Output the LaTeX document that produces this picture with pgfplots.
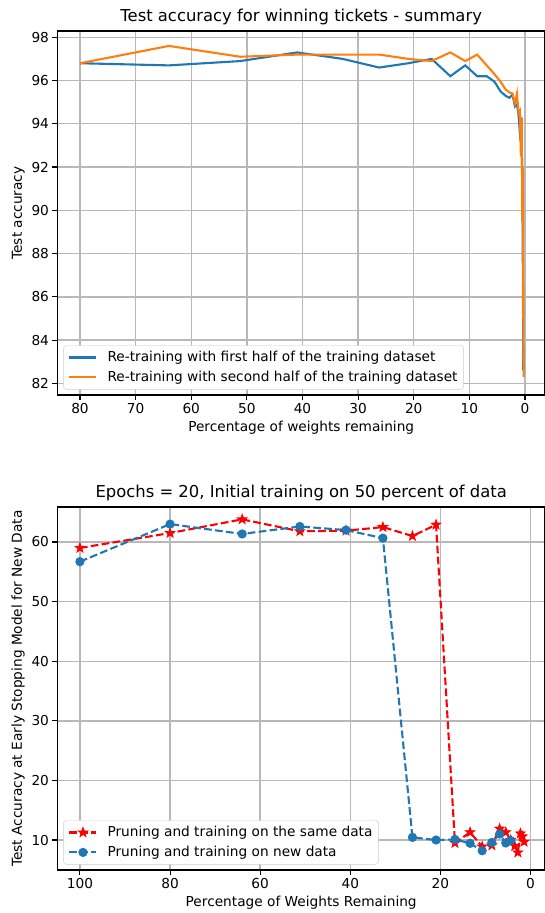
\documentclass[border=0pt]{standalone}
\usepackage{pgfplots}
\pgfplotsset{compat=1.18}
\usepackage{fontspec}
\setmainfont{DejaVu Sans}
\definecolor{mplblue}{HTML}{1F77B4}
\definecolor{mplorange}{HTML}{FF7F0E}
\definecolor{gridgray}{HTML}{B8B8B8}
\definecolor{legedge}{HTML}{CCCCCC}
\pgfdeclareplotmark{fstar}{%
  \pgfpathmoveto{\pgfpointpolar{90}{\pgfplotmarksize}}%
  \pgfpathlineto{\pgfpointpolar{126}{0.40\pgfplotmarksize}}%
  \pgfpathlineto{\pgfpointpolar{162}{\pgfplotmarksize}}%
  \pgfpathlineto{\pgfpointpolar{198}{0.40\pgfplotmarksize}}%
  \pgfpathlineto{\pgfpointpolar{234}{\pgfplotmarksize}}%
  \pgfpathlineto{\pgfpointpolar{270}{0.40\pgfplotmarksize}}%
  \pgfpathlineto{\pgfpointpolar{306}{\pgfplotmarksize}}%
  \pgfpathlineto{\pgfpointpolar{342}{0.40\pgfplotmarksize}}%
  \pgfpathlineto{\pgfpointpolar{18}{\pgfplotmarksize}}%
  \pgfpathlineto{\pgfpointpolar{54}{0.40\pgfplotmarksize}}%
  \pgfpathclose
  \pgfusepathqfillstroke}
\pgfplotsset{
  mystyle/.style={
    scale only axis, width=487.6pt,
    x dir=reverse,
    axis line style={line width=1.1pt},
    tick align=outside, tick pos=left,
    major tick length=4.9pt,
    every tick/.style={black, line width=1.1pt},
    grid=major, major grid style={gridgray, line width=1.4pt},
    tick label style={font=\fontsize{13.7}{16}\selectfont},
    label style={font=\fontsize{13.7}{16}\selectfont},
    title style={font=\fontsize{16.4}{19}\selectfont, at={(0.5,1)}, anchor=south, yshift=-3pt},
    /pgf/number format/assume math mode=true,
    legend style={font=\fontsize{13.7}{16}\selectfont, draw=legedge, rounded corners=3pt,
      at={(0.012,0.015)}, anchor=south west, legend cell align=left,
      inner xsep=4pt, inner ysep=4pt, row sep=4pt},
    legend image code/.code={\draw[mark repeat=2,mark phase=2] plot coordinates {(0pt,0pt)(13.5pt,0pt)(27pt,0pt)};\path (-1pt,0pt) (35pt,0pt);},
  }
}
\begin{document}
\begin{tikzpicture}
\useasboundingbox (0pt,0pt) rectangle (545pt,-913pt);
\begin{axis}[mystyle, at={(57.4pt,-395pt)}, anchor=south west, height=364pt,
  xmin=-3.6, xmax=84.06, ymin=81.46, ymax=98.29,
  xtick={0,10,...,80}, ytick={82,84,...,98},
  title={Test accuracy for winning tickets - summary},
  xlabel={Percentage of weights remaining},
  ylabel={Test accuracy}]
\addplot[mplblue, line width=2.1pt] coordinates {
(80,96.8)(64,96.7)(51.2,96.9)(40.96,97.3)(32.768,97.0)(26.214,96.6)(20.972,96.8)
(16.777,97.0)(13.422,96.2)(10.737,96.7)(8.590,96.2)(6.872,96.2)(5.498,95.95)
(4.398,95.5)(3.518,95.3)(2.815,95.2)(2.252,95.35)(1.801,94.8)(1.441,94.9)
(1.153,94.4)(0.922,93.6)(0.738,93.9)(0.590,93.3)(0.472,91.0)(0.378,87.0)(0.302,82.6)};
\addlegendentry{Re-training with first half of the training dataset}
\addplot[mplorange, line width=2.1pt] coordinates {
(80,96.8)(64,97.6)(51.2,97.1)(40.96,97.2)(32.768,97.2)(26.214,97.2)(20.972,97.0)
(16.777,96.9)(13.422,97.3)(10.737,96.9)(8.590,97.2)(6.872,96.7)(5.498,96.3)
(4.398,95.95)(3.518,95.6)(2.815,95.45)(2.252,95.4)(1.801,94.95)(1.441,95.4)
(1.153,94.5)(0.922,94.6)(0.738,92.5)(0.590,94.3)(0.472,89.5)(0.378,92.0)(0.302,85.0)(0.242,82.3)};
\addlegendentry{Re-training with second half of the training dataset}
\end{axis}
\begin{axis}[mystyle, at={(57.4pt,-870pt)}, anchor=south west, height=363pt,
  xmin=-3.2, xmax=105.0, ymin=4.97, ymax=65.87,
  xtick={0,20,...,100}, ytick={10,20,...,60},
  title={Epochs = 20, Initial training on 50 percent of data},
  xlabel={Percentage of Weights Remaining},
  ylabel={Test Accuracy at Early Stopping Model for New Data}]
\addplot[red, line width=2.1pt, dash pattern=on 7.7pt off 3.3pt, mark=fstar, mark size=5pt,
  mark options={solid, fill=red, line width=0.8pt}] coordinates {
(100,59.0)(80,61.5)(64,63.8)(51.2,61.8)(40.96,61.9)(32.768,62.5)(26.214,61.0)(20.972,62.9)
(16.777,9.5)(13.422,11.3)(10.737,8.9)(8.590,9.1)(6.872,11.9)(5.498,11.3)(4.398,10.0)
(3.518,9.0)(2.815,7.9)(2.252,11.1)(1.801,10.6)(1.441,9.7)};
\addlegendentry{Pruning and training on the same data}
\addplot[mplblue, line width=2.1pt, dash pattern=on 7.7pt off 3.3pt, mark=*, mark size=4.2pt,
  mark options={solid, fill=mplblue, draw=mplblue, line width=0.8pt}] coordinates {
(100,56.7)(80,63.0)(64,61.35)(51.2,62.6)(40.96,62.0)(32.768,60.65)(26.214,10.45)
(20.972,10.0)(16.777,10.1)(13.422,9.45)(10.737,8.2)(8.590,9.6)(6.872,11.0)(5.498,9.5)(4.398,9.9)};
\addlegendentry{Pruning and training on new data}
\end{axis}
\end{tikzpicture}
\end{document}
